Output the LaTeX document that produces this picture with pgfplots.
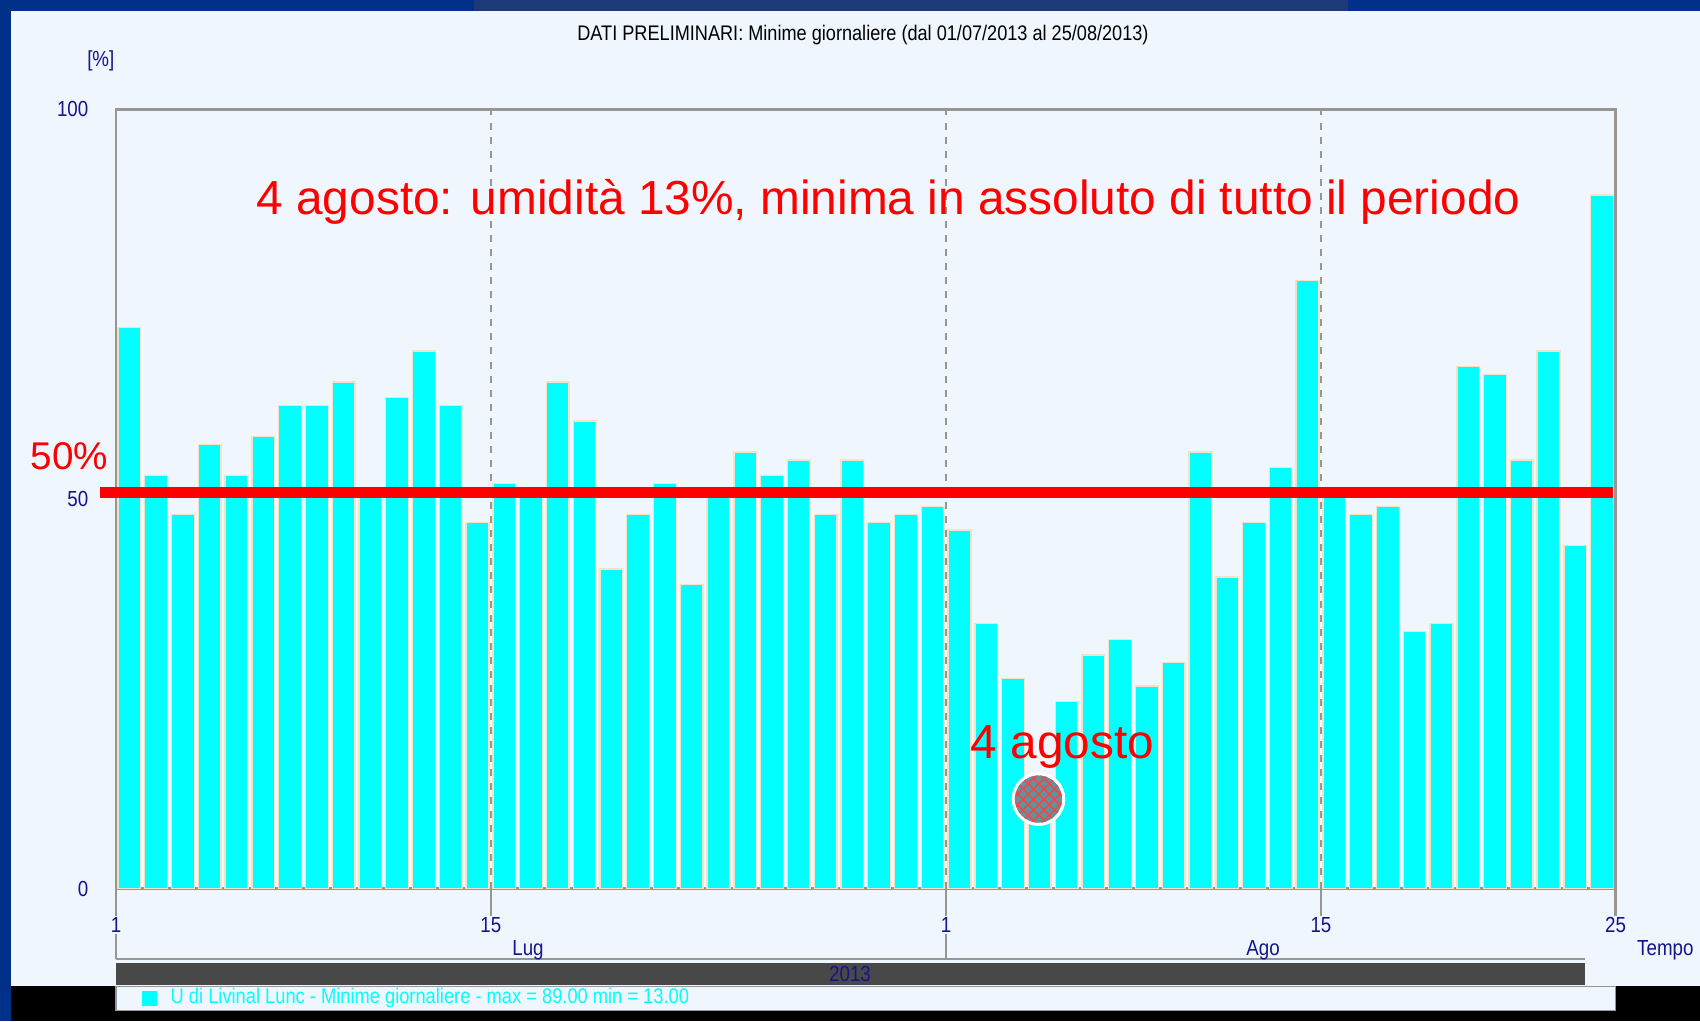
\documentclass[border=0pt]{standalone}
\usepackage{fontspec}
\setmainfont{Liberation Sans}
\newfontfamily\narrowfont[FakeStretch=0.86]{Liberation Sans}
\usepackage{pgfplots}
\pgfplotsset{compat=1.18}
\usepackage{pgfplotstable}
\usetikzlibrary{patterns}

\definecolor{frameblue}{RGB}{0,48,135}
\definecolor{frameblue2}{RGB}{28,58,120}
\definecolor{panel}{RGB}{239,246,254}
\definecolor{navytxt}{RGB}{20,20,140}
\definecolor{barcyan}{RGB}{0,255,255}
\definecolor{baredge}{RGB}{245,225,195}
\definecolor{bandgray}{RGB}{72,72,72}
\definecolor{axisgray}{RGB}{150,150,150}
\definecolor{hlfill}{RGB}{90,150,160}

\newcommand\tickfont{\narrowfont\fontsize{6.2}{7}\selectfont}

% daily minimum humidity, 01/07/2013 .. 25/08/2013 (bar centres at day-0.5)
\pgfplotstableread{
x y
0.5 72
1.5 53
2.5 48
3.5 57
4.5 53
5.5 58
6.5 62
7.5 62
8.5 65
9.5 51
10.5 63
11.5 69
12.5 62
13.5 47
14.5 52
15.5 51
16.5 65
17.5 60
18.5 41
19.5 48
20.5 52
21.5 39
22.5 51
23.5 56
24.5 53
25.5 55
26.5 48
27.5 55
28.5 47
29.5 48
30.5 49
31.5 46
32.5 34
33.5 27
34.5 13
35.5 24
36.5 30
37.5 32
38.5 26
39.5 29
40.5 56
41.5 40
42.5 47
43.5 54
44.5 78
45.5 51
46.5 48
47.5 49
48.5 33
49.5 34
50.5 67
51.5 66
52.5 55
53.5 69
54.5 44
55.5 89
}\minime

\begin{document}
\begin{tikzpicture}[x=1cm,y=1cm]
\useasboundingbox (0,0) rectangle (17,10.21);
% slide frame
\fill[frameblue] (0,0) rectangle (17,10.21);
\fill[frameblue2] (4.738,10.102) rectangle (13.477,10.21);
\fill[panel] (0.108,0.347) rectangle (17,10.102);
\fill[black] (0.108,0) rectangle (17,0.347);
\filldraw[fill=panel, draw=axisgray] (1.160,0.108) rectangle (16.155,0.347);

\begin{axis}[
  at={(1.160cm,1.323cm)}, anchor=south west,
  scale only axis, width=14.995cm, height=7.795cm,
  xmin=0, xmax=56, ymin=0, ymax=100,
  clip=false,
  axis line style={axisgray, line width=0.8pt},
  xtick={0,14,31,45,56}, xticklabels={1,15,1,15,25},
  xtick pos=bottom, tick align=outside, major tick length=0.27cm,
  xtick style={axisgray, line width=0.6pt},
  xticklabel style={font=\tickfont, text=navytxt, anchor=base, yshift=-0.17cm},
  ytick={0,50,100}, yticklabels={0,50,100},
  ytick style={draw=none},
  yticklabel style={font=\tickfont, text=navytxt, anchor=east, inner sep=0pt, xshift=0cm},
  xmajorgrids, grid style={axisgray, line width=0.5pt, dash pattern=on 2pt off 2pt},
]
\addplot[ybar, bar width=0.85, fill=barcyan, draw=baredge, line width=0.4pt]
  table[x=x, y=y] {\minime};
\draw[red, line width=3.1pt] (axis cs:-0.6,50.8) -- (axis cs:55.9,50.8);
% highlight of the 4 August minimum
\addplot[only marks, mark=*, mark size=7.2pt,
  mark options={fill=hlfill, draw=white, line width=0.8pt}]
  coordinates {(34.45,11.5)};
\addplot[only marks, mark=*, mark size=7.2pt,
  mark options={pattern=crosshatch, pattern color=red!75, draw=white, line width=0.8pt}]
  coordinates {(34.45,11.5)};
\end{axis}

% date band under the axis
\draw[axisgray, line width=0.6pt] (1.160,0.867) -- (1.160,0.618);
\draw[axisgray, line width=0.6pt] (9.461,0.867) -- (9.461,0.618);
\draw[axisgray, line width=0.6pt] (1.160,0.618) -- (15.851,0.618);
\fill[bandgray] (1.160,0.585) rectangle (15.851,0.360);
\node[font=\tickfont, text=navytxt] at (5.280,0.705) {Lug};
\node[font=\tickfont, text=navytxt] at (12.631,0.705) {Ago};
\node[font=\tickfont, text=navytxt] at (8.500,0.470) {2013};
\node[font=\tickfont, text=navytxt] at (16.653,0.705) {Tempo};
\node[font=\tickfont, text=navytxt] at (1.008,9.606) {[\%]};
\node[font=\narrowfont\fontsize{6.0}{7}\selectfont, text=black] at (8.630,9.855)
  {DATI PRELIMINARI: Minime giornaliere (dal 01/07/2013 al 25/08/2013)};

% legend row
\fill[barcyan] (1.420,0.155) rectangle (1.570,0.300);
\node[font=\narrowfont\fontsize{6.05}{7}\selectfont, text=barcyan, anchor=west, inner sep=0pt] at (1.700,0.228)
  {U di Livinal Lunc - Minime giornaliere - max = 89.00 min = 13.00};

% red annotations
\node[red, font=\fontsize{13.6}{15}\selectfont, anchor=base] at (8.885,8.066)
  {4 agosto: umidità 13\%, minima in assoluto di tutto il periodo};
\node[red, font=\fontsize{13.6}{15}\selectfont, anchor=base] at (10.625,2.624) {4 agosto};
\node[red, font=\fontsize{11}{13}\selectfont, anchor=base] at (0.694,5.519) {50\%};
\end{tikzpicture}
\end{document}
